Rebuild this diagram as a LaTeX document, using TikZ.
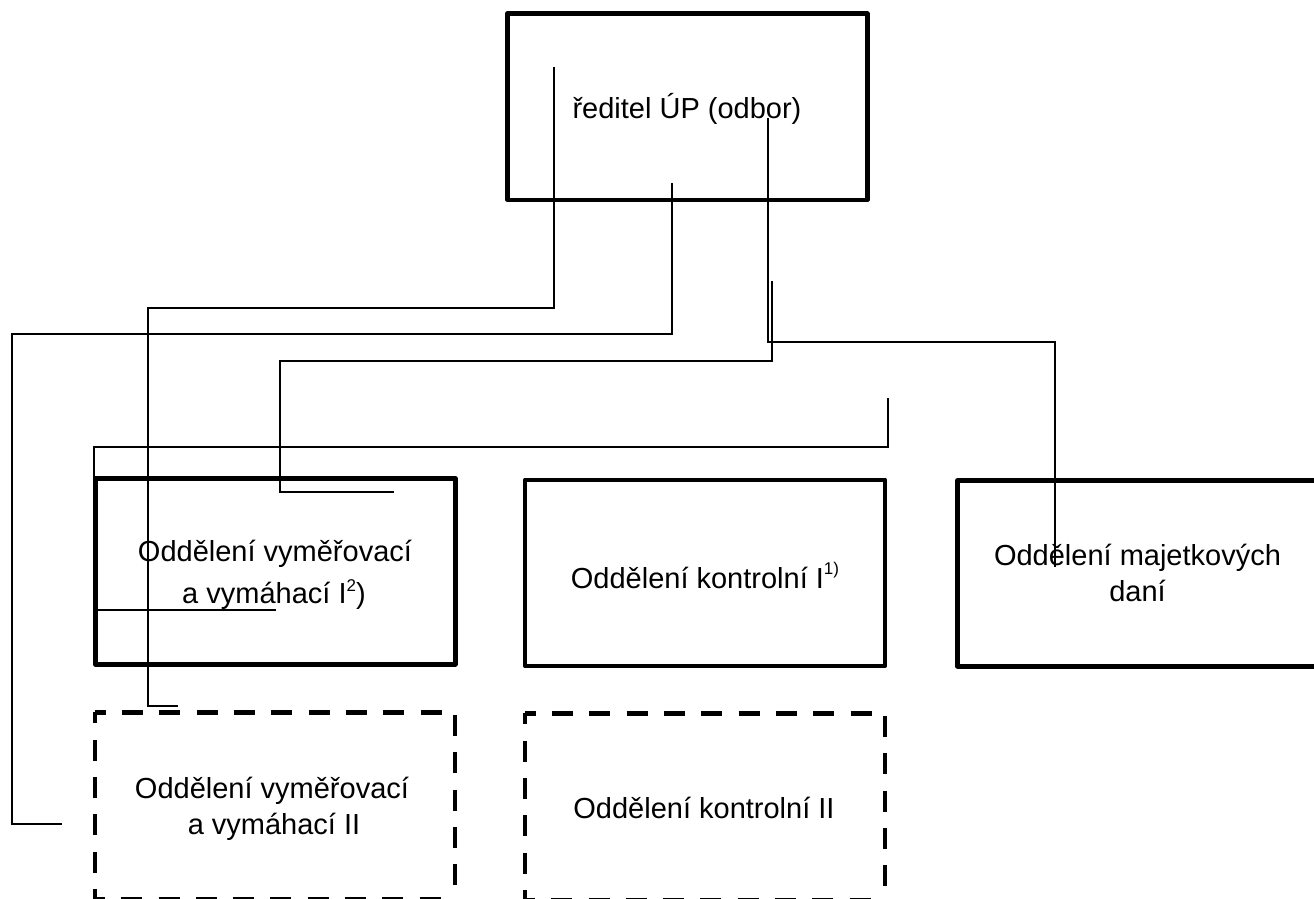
\documentclass[tikz,border=0pt]{standalone}
\usepackage{fontspec}
\setmainfont{Liberation Sans}
% raised, smaller index after a label
\newcommand\upidx[2]{\raisebox{#1}{\fontsize{17}{17}\selectfont #2}}
\begin{document}
\begin{tikzpicture}[x=1pt,y=-1pt,
  unitbox/.style={draw, rectangle, line width=4.5pt, line join=round, inner sep=0pt,
    minimum width=360pt, minimum height=186pt},
  planbox/.style={rectangle, inner sep=0pt, minimum width=360pt, minimum height=187pt},
  planedge/.style={line width=4.5pt, dash pattern=on 21pt off 16.3pt, dash phase=10pt},
  wire/.style={line width=1.5pt, line join=miter},
  txt/.style={font=\fontsize{29}{35}\selectfont, inner sep=0pt, anchor=base}]
\useasboundingbox (0,0) rectangle (1314,899);

% solid units
\node[unitbox] (dir)  at (687.25,106.75) {};
\node[unitbox] (vav1) at (275.25,571.25) {};
\node[unitbox] (kon1) at (705,572.75) {};
\node[unitbox] (maj)  at (1137.5,573.25) {};

% planned units (dashed outline)
\node[planbox] (vav2) at (275,806) {};
\node[planbox] (kon2) at (705,807) {};
\foreach \b in {vav2,kon2}{
  \draw[planedge] (\b.north west) -- (\b.north east) -- (\b.south east);
  \draw[planedge] (\b.north west) -- (\b.south west) -- (\b.south east);
}

% labels
\node[txt] (dirT)   at (687,118)    {ředitel ÚP (odbor)};
\node[txt] (vav1T1) at (275,561)    {Oddělení vyměřovací};
\node[txt] (vav1T2) at (274,603)    {a vymáhací I\upidx{12pt}{2})};
\node[txt] (kon1T)  at (705,588)    {Oddělení kontrolní I\upidx{14pt}{1)}};
\node[txt] (majT1)  at (1137.5,565) {Oddělení majetkových};
\node[txt] (majT2)  at (1137.5,601) {daní};
\node[txt] (vav2T1) at (272,798)    {Oddělení vyměřovací};
\node[txt] (vav2T2) at (274,834)    {a vymáhací II};
\node[txt] (kon2T)  at (704,818)    {Oddělení kontrolní II};

% connector ends and bends
\coordinate (a0) at (554,67);  \coordinate (a1) at (554,308);
\coordinate (a2) at (148,308); \coordinate (a3) at (148,706);
\coordinate (a4) at (178,706);
\coordinate (b0) at (672,183); \coordinate (b1) at (672,334);
\coordinate (b2) at (12,334);  \coordinate (b3) at (12,824);
\coordinate (b4) at (62,824);
\coordinate (c0) at (768,118); \coordinate (c1) at (768,342);
\coordinate (c2) at (1055,342); \coordinate (c3) at (1055,567);
\coordinate (d0) at (772,281); \coordinate (d1) at (772,361);
\coordinate (d2) at (280,361); \coordinate (d3) at (280,492);
\coordinate (d4) at (394,492);
\coordinate (e0) at (888,398); \coordinate (e1) at (888,447);
\coordinate (e2) at (94,447);  \coordinate (e3) at (94,610);
\coordinate (e4) at (276,610);

% connectors
\draw[wire] (a0) -- (a1) -- (a2) -- (a3) -- (a4);
\draw[wire] (b0) -- (b1) -- (b2) -- (b3) -- (b4);
\draw[wire] (c0) -- (c1) -- (c2) -- (c3);
\draw[wire] (d0) -- (d1) -- (d2) -- (d3) -- (d4);
\draw[wire] (e0) -- (e1) -- (e2) -- (e3) -- (e4);
\end{tikzpicture}
\end{document}
